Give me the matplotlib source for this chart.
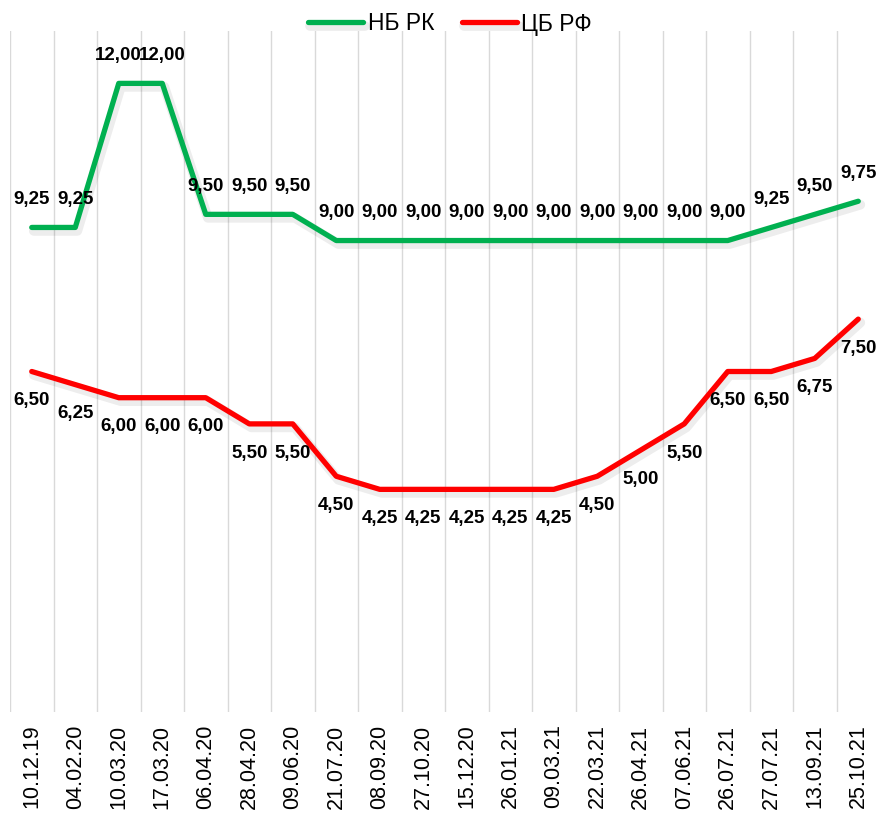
import matplotlib
matplotlib.use("Agg")
matplotlib.rcParams["font.family"] = ["Liberation Sans", "DejaVu Sans"]

import numpy as np
import matplotlib.pyplot as plt
import matplotlib.patheffects as pe

dates = ["10.12.19", "04.02.20", "10.03.20", "17.03.20", "06.04.20", "28.04.20",
         "09.06.20", "21.07.20", "08.09.20", "27.10.20", "15.12.20", "26.01.21",
         "09.03.21", "22.03.21", "26.04.21", "07.06.21", "26.07.21", "27.07.21",
         "13.09.21", "25.10.21"]
nb_rk = [9.25, 9.25, 12.00, 12.00, 9.50, 9.50, 9.50, 9.00, 9.00, 9.00,
         9.00, 9.00, 9.00, 9.00, 9.00, 9.00, 9.00, 9.25, 9.50, 9.75]
cb_rf = [6.50, 6.25, 6.00, 6.00, 6.00, 5.50, 5.50, 4.50, 4.25, 4.25,
         4.25, 4.25, 4.25, 4.50, 5.00, 5.50, 6.50, 6.50, 6.75, 7.50]

GREEN = "#00B050"
RED = "#FF0000"
GRID = "#D9D9D9"

fig = plt.figure(figsize=(8.78, 8.22), dpi=100)
ax = fig.add_axes([10 / 878, 1 - 712 / 822, 870 / 878, 681 / 822])

x = np.arange(len(dates))
shadow = [pe.SimpleLineShadow(offset=(1.5, -2.5), shadow_color="black", alpha=0.07, linewidth=7),
          pe.Normal()]

ax.plot(x, nb_rk, color=GREEN, lw=3.8, solid_capstyle="round", solid_joinstyle="round",
        label="НБ РК", path_effects=shadow, zorder=3)
ax.plot(x, cb_rf, color=RED, lw=3.8, solid_capstyle="round", solid_joinstyle="round",
        label="ЦБ РФ", path_effects=shadow, zorder=3)

def fmt(v):
    return f"{v:.2f}".replace(".", ",")

for xi, v in zip(x, nb_rk):
    ax.annotate(fmt(v), (xi, v), xytext=(0, 20), textcoords="offset points",
                ha="center", va="center", fontsize=13.5, fontweight="bold", color="black")
for xi, v in zip(x, cb_rf):
    ax.annotate(fmt(v), (xi, v), xytext=(0, -21), textcoords="offset points",
                ha="center", va="center", fontsize=13.5, fontweight="bold", color="black")

ax.set_xlim(-0.5, len(dates) - 0.5)
ax.set_ylim(0, 13)
ax.set_xticks(x)
ax.set_xticklabels(dates, rotation=90, fontsize=15.5)
ax.set_xticks(np.arange(-0.5, len(dates)), minor=True)
ax.tick_params(axis="x", which="both", length=0, pad=9)
ax.set_yticks([])
ax.grid(which="minor", axis="x", color=GRID, lw=1.0)
for s in ax.spines.values():
    s.set_visible(False)

fig.legend(loc="center", bbox_to_anchor=(450 / 878, 1 - 24 / 822), ncol=2, frameon=False,
           fontsize=16.5, handlelength=2.4, handletextpad=0.2, columnspacing=1.2)

fig.savefig("out.png", dpi=100, facecolor="white")
